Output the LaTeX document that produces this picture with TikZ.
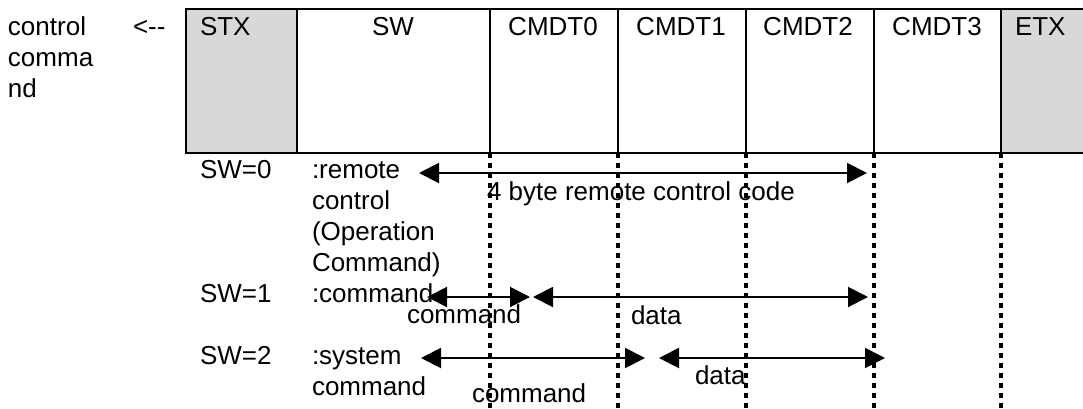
\documentclass[tikz,border=0pt]{standalone}
\usepackage{fontspec}
\setmainfont{Liberation Sans}
\usetikzlibrary{arrows.meta}
\definecolor{hdrgray}{RGB}{216,216,216}
\begin{document}
\begin{tikzpicture}[x=1pt,y=-1pt,
  every node/.style={font=\fontsize{26}{31}\selectfont},
  txt/.style={anchor=base west, inner sep=0pt, outer sep=0pt, yshift=-1.5pt},
  ctxt/.style={anchor=base, inner sep=0pt, outer sep=0pt, yshift=-1.5pt},
  cell/.style={draw, line width=2pt, inner sep=0pt, outer sep=0pt, anchor=north west, minimum height=144pt},
  shaded/.style={cell, fill=hdrgray},
  guide/.style={line width=3.5pt, dash pattern=on 5pt off 5pt},
  span/.style={line width=2pt, {Triangle[length=20pt,width=20pt]}-{Triangle[length=20pt,width=20pt]}}
]
\useasboundingbox (0,0) rectangle (1083,408);

% frame cells
\node[shaded, minimum width=111pt] (stx) at (186,9) {};
\node[cell, minimum width=193pt] (sw) at (297,9) {};
\node[cell, minimum width=128pt] (c0) at (490,9) {};
\node[cell, minimum width=128pt] (c1) at (618,9) {};
\node[cell, minimum width=128pt] (c2) at (746,9) {};
\node[cell, minimum width=127pt] (c3) at (874,9) {};
\node[shaded, minimum width=95pt] (etx) at (1001,9) {};

% header labels
\node[txt] (hstx) at (200,34) {STX};
\node[ctxt] (hsw) at (393,34) {SW};
\node[ctxt] (hc0) at (553,34) {CMDT0};
\node[ctxt] (hc1) at (681,34) {CMDT1};
\node[ctxt] (hc2) at (808,34) {CMDT2};
\node[ctxt] (hc3) at (937,34) {CMDT3};
\node[txt] (hetx) at (1015,34) {ETX};

% left caption
\node[txt] (cap1) at (8,34) {control};
\node[txt] (cap2) at (8,65) {comma};
\node[txt] (cap3) at (8,96) {nd};
\node[txt] (larrow) at (133,34) {<\mbox{-}\mbox{-}};

% dotted guides
\coordinate (g0) at (490,408);
\coordinate (g1) at (618,408);
\coordinate (g2) at (746,408);
\coordinate (g3) at (874,408);
\coordinate (g4) at (1001,408);
\draw[guide] (c0.south west) -- (g0);
\draw[guide] (c1.south west) -- (g1);
\draw[guide] (c2.south west) -- (g2);
\draw[guide] (c3.south west) -- (g3);
\draw[guide] (etx.south west) -- (g4);

% row SW=0
\node[txt] (s0) at (200,177) {SW=0};
\node[txt] (d0a) at (312,177) {:remote};
\node[txt] (d0b) at (312,208) {control};
\node[txt] (d0c) at (312,239) {(Operation};
\node[txt] (d0d) at (312,270) {Command)};
\coordinate (a0l) at (419,173);
\coordinate (a0r) at (867,173);
\draw[span] (a0l) -- (a0r);
\node[txt] (l0) at (487,199) {4 byte remote control code};

% row SW=1
\node[txt] (s1) at (200,301) {SW=1};
\node[txt] (d1) at (312,301) {:command};
\coordinate (a1l) at (427,297);
\coordinate (a1m) at (530,297);
\coordinate (a1n) at (533,297);
\coordinate (a1r) at (868,297);
\draw[span] (a1l) -- (a1m);
\draw[span] (a1n) -- (a1r);
\node[txt] (l1a) at (407,322) {command};
\node[txt] (l1b) at (631,323) {data};

% row SW=2
\node[txt] (s2) at (200,363) {SW=2};
\node[txt] (d2a) at (312,363) {:system};
\node[txt] (d2b) at (312,394) {command};
\coordinate (a2l) at (421,358);
\coordinate (a2m) at (645,358);
\coordinate (a2n) at (659,358);
\coordinate (a2r) at (885,358);
\draw[span] (a2l) -- (a2m);
\draw[span] (a2n) -- (a2r);
\node[txt] (l2a) at (472,401) {command};
\node[txt] (l2b) at (695,383) {data};
\end{tikzpicture}
\end{document}
